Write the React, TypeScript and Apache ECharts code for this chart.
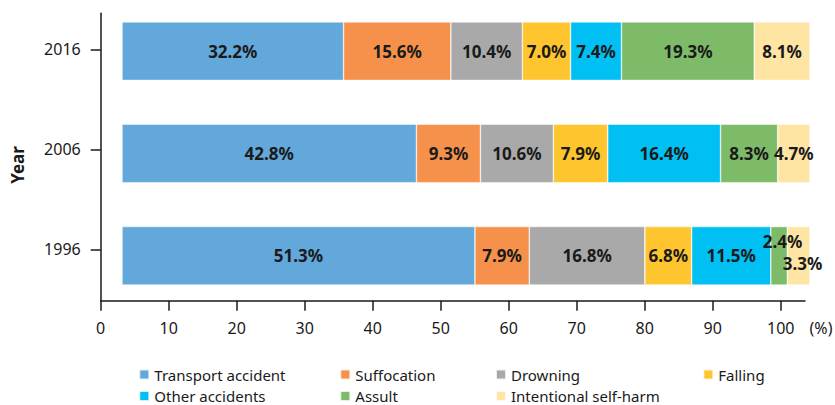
import React, { useEffect, useRef } from "react";
import * as echarts from "echarts";

const years = ["1996", "2006", "2016"];
const causes = [
  "Transport accident",
  "Suffocation",
  "Drowning",
  "Falling",
  "Other accidents",
  "Assult",
  "Intentional self-harm",
];
// values per cause, in order of years (1996, 2006, 2016)
const transport = [51.3, 42.8, 32.2];
const suffocation = [7.9, 9.3, 15.6];
const drowning = [16.8, 10.6, 10.4];
const falling = [6.8, 7.9, 7.0];
const otherAccidents = [11.5, 16.4, 7.4];
const assult = [2.4, 8.3, 19.3];
const selfHarm = [3.3, 4.7, 8.1];
const xTicks = [0, 10, 20, 30, 40, 50, 60, 70, 80, 90, 100];

const colors = ["#62a8da", "#f6914b", "#a9a9aa", "#fec52e", "#00bff3", "#7dbb69", "#fee5a3"];
const FONT = '"Noto Sans", sans-serif';
const TXT = "#1a1a1a";

export default function App() {
  const ref = useRef<HTMLDivElement>(null);
  useEffect(() => {
    if (!ref.current) return;
    const chart = echarts.init(ref.current, null, { renderer: "svg" });
    const values = [transport, suffocation, drowning, falling, otherAccidents, assult, selfHarm];
    const labelOffsets: Record<string, number[]> = {
      "5-0": [3.6, -14.6],
      "6-0": [4, 7.6],
    };
    const series = causes.map((name, si) => ({
      name,
      type: "bar",
      stack: "total",
      xAxisIndex: 1,
      yAxisIndex: 1,
      barWidth: 58.5,
      clip: false,
      itemStyle: { color: colors[si], borderColor: "rgba(255,255,255,0.8)", borderWidth: 0.6 },
      label: {
        show: true,
        position: "inside",
        fontFamily: FONT,
        fontWeight: "bold",
        fontSize: 17,
        color: TXT,
        formatter: (p: any) => Number(p.value).toFixed(1) + "%",
      },
      data: values[si].map((v, yi) => {
        const off = labelOffsets[si + "-" + yi];
        return off ? { value: v, label: { offset: off } } : v;
      }),
    }));
    const legendPos = [
      [138.3, 367],
      [339.3, 367],
      [495, 367],
      [702.3, 367],
      [138.3, 388.5],
      [339.3, 388.5],
      [495, 388.5],
    ];
    const legends = causes.map((name, i) => ({
      data: [name],
      left: legendPos[i][0],
      top: legendPos[i][1],
      padding: 0,
      itemWidth: 10,
      itemHeight: 10,
      itemTextGap: 4,
      icon: "rect",
      selectedMode: false,
      textStyle: { fontFamily: FONT, fontSize: 15, color: TXT },
    }));
    chart.setOption({
      animation: false,
      textStyle: { fontFamily: FONT },
      grid: [
        { left: 100.7, top: 13.3, width: 704.3, height: 287.4 },
        { left: 122, top: -2.35, width: 688, height: 309.3 },
      ],
      xAxis: [
        {
          gridIndex: 0,
          type: "value",
          min: 0,
          max: 103.57,
          interval: 10,
          splitLine: { show: false },
          axisLine: { show: true, onZero: false, lineStyle: { color: TXT, width: 1.5 } },
          axisTick: { show: true, length: 10, customValues: xTicks, lineStyle: { color: TXT, width: 1.5 } },
          axisLabel: { customValues: xTicks, margin: 19, fontSize: 16, color: TXT, fontFamily: FONT },
        },
        { gridIndex: 1, type: "value", min: 0, max: 100, show: false },
      ],
      yAxis: [
        {
          gridIndex: 0,
          type: "value",
          min: -0.514,
          max: 2.36,
          splitLine: { show: false },
          axisLine: { show: true, onZero: false, lineStyle: { color: TXT, width: 1.5 } },
          axisTick: { show: true, length: 10, customValues: [0, 1, 2], lineStyle: { color: TXT, width: 1.5 } },
          axisLabel: {
            customValues: [0, 1, 2],
            margin: 20,
            fontSize: 16,
            color: TXT,
            fontFamily: FONT,
            formatter: (v: number) => years[Math.round(v)] ?? "",
          },
        },
        { gridIndex: 1, type: "category", data: years, show: false },
      ],
      legend: legends,
      graphic: [
        {
          type: "text",
          x: 17,
          y: 165,
          rotation: Math.PI / 2,
          style: {
            text: "Year",
            fontFamily: FONT,
            fontWeight: "bold",
            fontSize: 17,
            fill: TXT,
            textAlign: "center",
            textVerticalAlign: "middle",
            align: "center",
            verticalAlign: "middle",
          },
        },
        {
          type: "text",
          x: 821,
          y: 327.7,
          style: {
            text: "(%)",
            fontFamily: FONT,
            fontSize: 16,
            fill: TXT,
            textAlign: "center",
            textVerticalAlign: "middle",
            align: "center",
            verticalAlign: "middle",
          },
        },
      ],
      series,
    });
    return () => chart.dispose();
  }, []);
  return (
    <div
      ref={ref}
      style={{ position: "fixed", left: 0, top: 0, width: 835, height: 405, background: "#fff" }}
    />
  );
}
